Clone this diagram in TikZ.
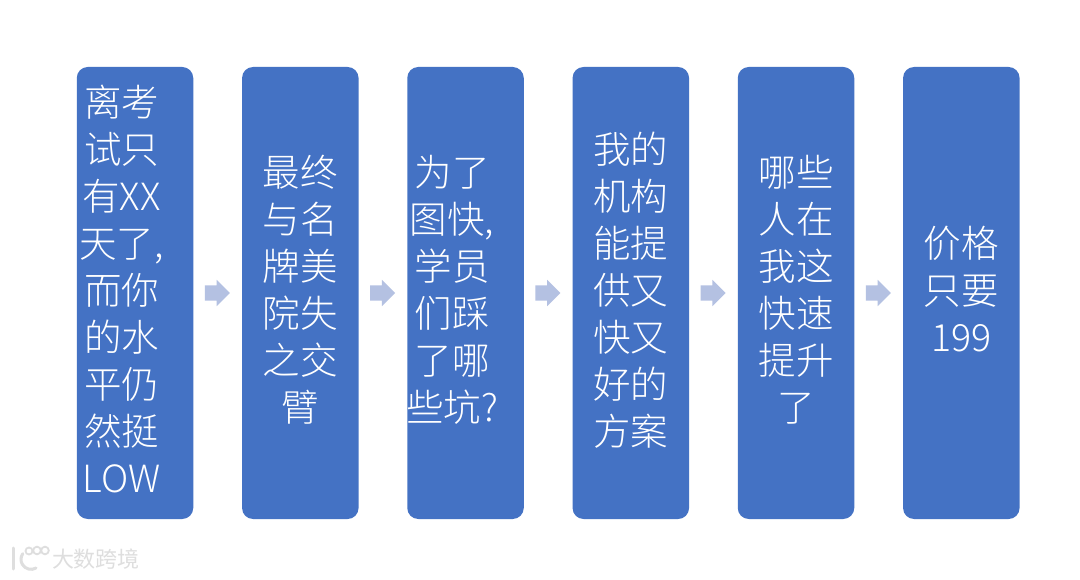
\documentclass[tikz,border=0pt]{standalone}
\usepackage{fontspec}
\usetikzlibrary{shapes.arrows}
\newfontfamily\cjk{Noto Sans CJK SC}
\newfontfamily\cjklight{Noto Sans CJK SC Light}
\definecolor{boxblue}{HTML}{4472C4}
\definecolor{arrowblue}{HTML}{B4C1E2}
\definecolor{markgray}{HTML}{DEDEDE}
% text block: shifted horizontally by #1 and down by 2pt, without changing the node's size
\newcommand{\boxlines}[2]{\kern#1\makebox[0pt]{\raisebox{-2pt}[\height][\depth]{\begin{tabular}{@{}c@{}}#2\end{tabular}}}\kern-#1}
\tikzset{
  x=1pt,y=1pt,
  stepbox/.style={draw=none,fill=boxblue,rounded corners=11pt,minimum width=116.5pt,minimum height=452pt,inner sep=0pt,text=white,font=\cjklight\fontsize{37.5}{47}\selectfont},
  flowarrow/.style={single arrow,fill=arrowblue,draw=none,minimum height=25pt,inner xsep=0pt,inner ysep=7.5pt,single arrow head extend=5.5pt,single arrow tip angle=90,shape border rotate=0},
  marktext/.style={text=markgray,inner sep=0pt,font=\cjk\fontsize{22}{22}\selectfont}
}
\begin{document}
\begin{tikzpicture}
\useasboundingbox (0,0) rectangle (1080,579);
\fill[white] (0,0) rectangle (1080,579);
\node[stepbox] (b1) at (135,286) {\boxlines{-13.5pt}{离考\\试只\\有XX\\天了,\\而你\\的水\\平仍\\然挺\\LOW}};
\node[stepbox] (b2) at (300.3,286) {\boxlines{0pt}{最终\\与名\\牌美\\院失\\之交\\臂}};
\node[stepbox] (b3) at (465.5,286) {\boxlines{-13.5pt}{为了\\图快,\\学员\\们踩\\了哪\\些坑?}};
\node[stepbox] (b4) at (630.8,286) {\boxlines{0pt}{我的\\机构\\能提\\供又\\快又\\好的\\方案}};
\node[stepbox] (b5) at (796,286) {\boxlines{0pt}{哪些\\人在\\我这\\快速\\提升\\了}};
\node[stepbox] (b6) at (961.3,286) {\boxlines{0pt}{价格\\只要\\199}};
\node[flowarrow] (a1) at (213.5,286) {};
\node[flowarrow] (a2) at (378.8,286) {};
\node[flowarrow] (a3) at (544,286) {};
\node[flowarrow] (a4) at (709.3,286) {};
\node[flowarrow] (a5) at (874.5,286) {};
\node[marktext] (wm) at (96,20) {大数跨境};
\draw[markgray,line width=3pt,line cap=round] (13,31) -- (13,10);
\draw[markgray,line width=3pt,line cap=round] (36,11) arc (-60:-215:10);
\draw[markgray,line width=1.8pt] (29,28) circle (3.5);
\draw[markgray,line width=1.8pt] (37,28.5) circle (3.8);
\draw[markgray,line width=1.8pt] (45,28.5) circle (3.8);
\end{tikzpicture}
\end{document}
